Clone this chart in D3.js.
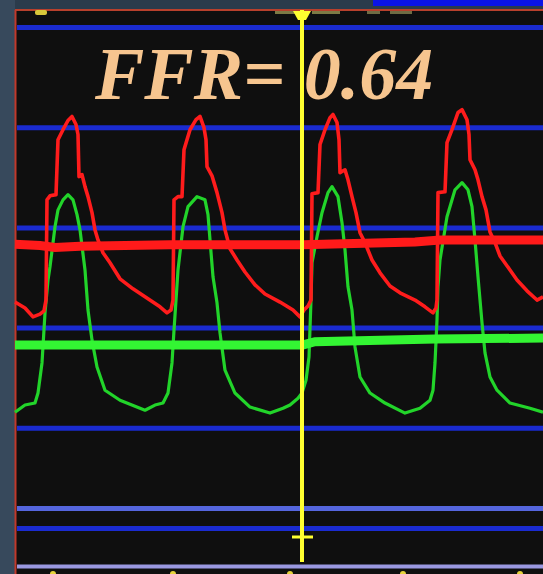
<!DOCTYPE html>
<html>
<head>
<meta charset="utf-8">
<script src="https://cdn.jsdelivr.net/npm/d3@7"></script>
<style>
html,body{margin:0;padding:0;background:#0e0e0e;}
svg{display:block;}
</style>
</head>
<body>
<svg id="chart" width="543" height="574"></svg>
<script>
// ---------- DATA (time in ms, pressure in mmHg) ----------
const gridLevels = [0, 25, 50, 75, 100, 125];
const refLevel = 5;
const baseLevel = -9.5;
const cursorTime = 1435;
const bottomTicks = [190, 790, 1375, 1940, 2525];
const ffrLabel = "FFR= 0.64";

// aortic pressure (red)
const redTrace = [
[0,56.5],[50,55],[90,52.8],[125,53.5],[145,54.3],[155,57],[160,82],[175,83],[205,83.3],[215,97],[240,99.5],[265,101.8],[285,102.8],[305,100.8],[315,98.3],[320,87.8],[335,88.3],[350,85.3],[365,82.8],[385,78.8],[400,74.5],[415,72],[440,68.8],[475,66.3],[525,62.3],[590,59.8],[650,57.8],[725,55.3],[760,53.8],[780,54.5],[790,57],
[795,82],[815,82.8],[835,82.8],[845,94.5],[875,99.5],[905,102],[925,102.8],[945,100],[955,97],[960,90.3],[985,88],[1010,83.8],[1035,78.8],[1050,74.5],[1075,69.8],[1110,67],[1150,64],[1200,60.8],[1250,58.5],[1325,56.5],[1390,54.5],[1425,52.8],
[1445,54.5],[1465,55.5],[1480,57],[1485,83.5],[1515,83.8],[1525,95.8],[1550,99.5],[1575,102.5],[1590,103.3],[1610,101.3],[1620,97],[1625,88.8],[1650,89.5],[1665,87],[1685,82.8],[1705,78.8],[1725,73.8],[1750,71.3],[1785,67],[1825,63.8],[1875,60.5],[1925,58.8],[2000,57],[2050,55.3],[2090,53.8],[2105,55],[2110,57],
[2115,83.8],[2150,84],[2160,96.3],[2185,99.5],[2215,103.8],[2235,104.5],[2260,102],[2270,98.3],[2275,92],[2300,89.5],[2315,87],[2335,82.8],[2355,79.5],[2375,74],[2400,71.3],[2425,68],[2475,64.5],[2510,62],[2560,59.3],[2610,57],[2640,57.8]
];

// distal pressure (green)
const greenTrace = [
[0,29],[50,30.8],[100,31.3],[115,33.8],[135,41.3],[150,53.8],[165,62],[175,65.3],[200,75.3],[215,79.5],[240,82],[265,83.3],[290,82],[310,78.3],[325,74.5],[350,64.5],[365,54.5],[385,47],[410,40.3],[450,34.5],[525,32],[650,29.5],[700,30.8],[740,31.3],[765,33.8],[785,41.3],[795,49.5],[805,57],
[815,64.5],[840,75.3],[865,80.3],[910,82.8],[950,82],[965,78.3],[975,72],[990,62.8],[1010,56.3],[1025,48.8],[1050,39.5],[1100,33.8],[1175,30.3],[1275,28.8],[1340,30],[1375,30.8],[1415,32.5],[1435,33.8],
[1455,37],[1470,42.8],[1480,57],[1485,66.3],[1510,72.8],[1535,78.8],[1565,83.8],[1585,85.3],[1615,82.8],[1635,76.3],[1650,69.5],[1665,60.3],[1685,54.5],[1700,45.3],[1725,37.8],[1775,33.8],[1850,31.3],[1950,28.8],[2025,30],[2075,32],[2090,34.5],[2100,41.3],[2110,52],[2115,60.3],
[2125,67],[2160,77.8],[2200,84.5],[2235,86.3],[2265,84.5],[2285,80.3],[2300,72],[2315,62.8],[2335,51.3],[2350,43.8],[2375,37.8],[2410,34.5],[2475,31.3],[2575,30],[2640,29]
];

// mean pressures
const redMean = [[0,70.9],[125,70.6],[200,70.1],[325,70.4],[775,70.8],[1440,70.8],[2000,71.5],[2125,72],[2640,72]];
const greenMean = [[0,45.8],[1440,45.8],[1500,46.6],[2100,47.3],[2640,47.5]];

// ---------- DRAW ----------
const svg = d3.select("#chart");
const W = 543, H = 574, leftX = 15, topY = 10;

const x = d3.scaleLinear().domain([0, 2640]).range([leftX, W]);
const y = d3.scaleLinear().domain([0, 125]).range([528.5, 27.5]);

// backgrounds
svg.append("rect").attr("x",0).attr("y",0).attr("width",W).attr("height",H).attr("fill","#0f0f0f");
svg.append("rect").attr("x",0).attr("y",0).attr("width",W).attr("height",topY).attr("fill","#2b3b4b");
svg.append("rect").attr("x",0).attr("y",0).attr("width",leftX).attr("height",H).attr("fill","#37495c");
svg.append("rect").attr("x",373).attr("y",0).attr("width",W-373).attr("height",6).attr("fill","#0b14e6");

// red frame
svg.append("line").attr("x1",leftX).attr("x2",W).attr("y1",topY).attr("y2",topY).attr("stroke","#b8402c").attr("stroke-width",2);
svg.append("line").attr("x1",leftX+0.5).attr("x2",leftX+0.5).attr("y1",topY).attr("y2",H).attr("stroke","#c0392b").attr("stroke-width",2);

// faint top marks
const topMarks = [[275,295,"#7d7a45"],[312,340,"#7d7a45"],[367,380,"#6f6c44"],[390,412,"#6f6c44"]];
topMarks.forEach(m => svg.append("rect").attr("x",m[0]).attr("y",11).attr("width",m[1]-m[0]).attr("height",3).attr("fill",m[2]));
svg.append("rect").attr("x",35).attr("y",10).attr("width",12).attr("height",5).attr("rx",2).attr("fill","#d9c83a");

// grid lines
svg.append("g").selectAll("line").data(gridLevels).join("line")
  .attr("x1",leftX+2).attr("x2",W).attr("y1",d=>y(d)).attr("y2",d=>y(d))
  .attr("stroke","#1a2bd0").attr("stroke-width",5);
svg.append("line").attr("x1",leftX+2).attr("x2",W).attr("y1",y(refLevel)).attr("y2",y(refLevel))
  .attr("stroke","#5566dd").attr("stroke-width",5);
svg.append("line").attr("x1",leftX+2).attr("x2",W).attr("y1",y(baseLevel)).attr("y2",y(baseLevel))
  .attr("stroke","#9a98e0").attr("stroke-width",4);

const line = d3.line().x(d=>x(d[0])).y(d=>y(d[1]));

svg.append("path").datum(greenTrace).attr("d",line).attr("fill","none")
  .attr("stroke","#22d42a").attr("stroke-width",3.2).attr("stroke-linejoin","round");
svg.append("path").datum(redTrace).attr("d",line).attr("fill","none")
  .attr("stroke","#ff1c1c").attr("stroke-width",3.6).attr("stroke-linejoin","round");
svg.append("path").datum(greenMean).attr("d",line).attr("fill","none")
  .attr("stroke","#33f533").attr("stroke-width",9);
svg.append("path").datum(redMean).attr("d",line).attr("fill","none")
  .attr("stroke","#ff1a1a").attr("stroke-width",9);

// cursor
const cx = x(cursorTime);
svg.append("line").attr("x1",cx).attr("x2",cx).attr("y1",topY).attr("y2",562)
  .attr("stroke","#ffff30").attr("stroke-width",4);
svg.append("path").attr("d",`M${cx-9},${topY+1}L${cx+9},${topY+1}L${cx+4},${topY+10}L${cx-4},${topY+10}Z`).attr("fill","#ffff30");
svg.append("line").attr("x1",cx-10).attr("x2",cx+11).attr("y1",537).attr("y2",537)
  .attr("stroke","#ffff30").attr("stroke-width",3);

// bottom ticks
svg.append("g").selectAll("circle").data(bottomTicks).join("circle")
  .attr("cx",d=>x(d)).attr("cy",574).attr("r",3).attr("fill","#e6d23a");

// label
svg.append("text").attr("x",95).attr("y",99)
  .attr("font-family","'Liberation Serif','Times New Roman',serif")
  .attr("font-weight","bold").attr("font-style","italic").attr("font-size",74)
  .attr("fill","#f6c58f").text(ffrLabel);
</script>
</body>
</html>
